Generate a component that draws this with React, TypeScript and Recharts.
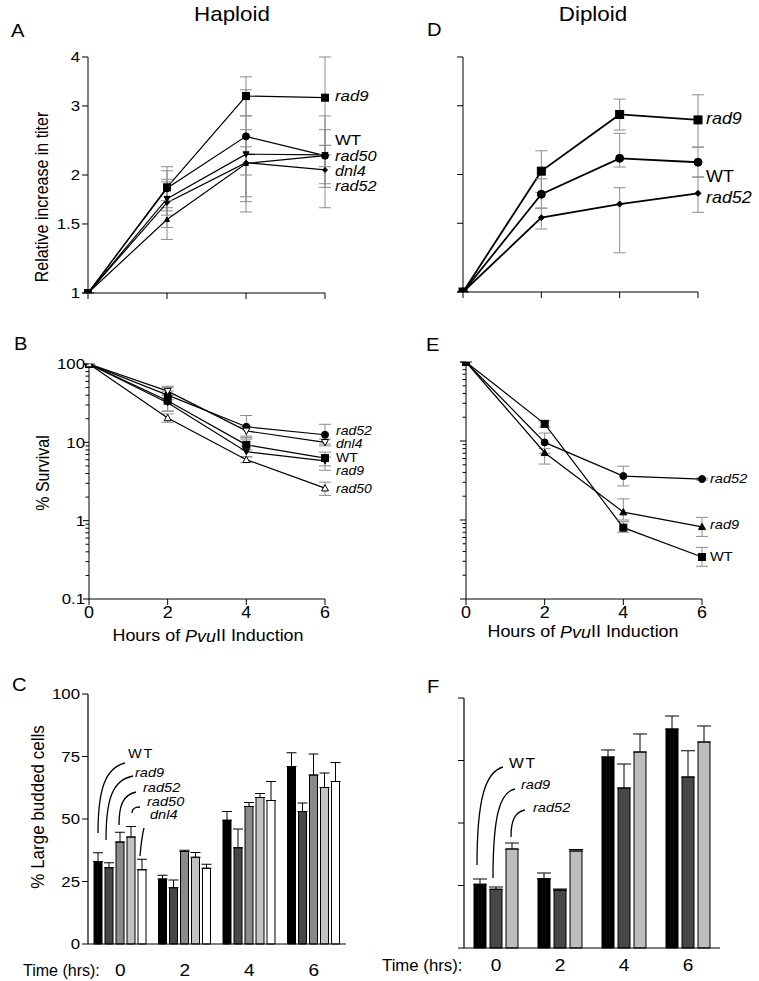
import React from 'react';
import { LineChart, Line, BarChart, Bar, XAxis, YAxis, ErrorBar } from 'recharts';

const FONT = '"Liberation Sans", Arial, Helvetica, sans-serif';
const SX = 1.12; // the scanned figure is a bit wider than tall

const hours = [0, 2, 4, 6];
const timeLabels = ['0', '2', '4', '6'];

// A: haploid, relative increase in titer
const hapTiterRad9 = [1, 1.86, 3.18, 3.15];
const hapTiterRad9Lo = [1, 1.62, 2.83, 2.38];
const hapTiterRad9Hi = [1, 2.1, 3.56, 4.0];
const hapTiterWT = [1, 1.85, 2.51, 2.24];
const hapTiterWTLo = [1, 1.65, 2.0, 1.86];
const hapTiterWTHi = [1, 2.05, 3.3, 2.83];
const hapTiterRad50 = [1, 1.74, 2.26, 2.25];
const hapTiterRad50Lo = [1, 1.58, 1.76, 1.65];
const hapTiterRad50Hi = [1, 1.92, 2.83, 2.61];
const hapTiterDnl4 = [1, 1.7, 2.15, 2.06];
const hapTiterDnl4Lo = [1, 1.47, 1.71, 1.9];
const hapTiterDnl4Hi = [1, 1.95, 2.61, 2.25];
const hapTiterRad52 = [1, 1.54, 2.14, 2.24];
const hapTiterRad52Lo = [1, 1.37, 1.61, 2.1];
const hapTiterRad52Hi = [1, 1.72, 2.36, 2.38];

// D: diploid, relative increase in titer
const dipTiterRad9 = [1, 2.04, 2.85, 2.76];
const dipTiterRad9Lo = [1, 1.8, 2.6, 2.35];
const dipTiterRad9Hi = [1, 2.3, 3.12, 3.2];
const dipTiterWT = [1, 1.78, 2.2, 2.15];
const dipTiterWTLo = [1, 1.64, 2.09, 1.97];
const dipTiterWTHi = [1, 1.95, 2.55, 2.35];
const dipTiterRad52 = [1, 1.55, 1.68, 1.79];
const dipTiterRad52Lo = [1, 1.45, 1.26, 1.6];
const dipTiterRad52Hi = [1, 1.64, 1.85, 1.97];

const titerTicks = [1, 1.5, 2, 3, 4];

// B: haploid, % survival
const hapSurvRad52 = [100, 40, 15.8, 12.5];
const hapSurvRad52Lo = [100, 35, 11, 9.5];
const hapSurvRad52Hi = [100, 50, 22, 17];
const hapSurvDnl4 = [100, 45, 14, 10];
const hapSurvDnl4Lo = [100, 40, 12, 9];
const hapSurvDnl4Hi = [100, 52, 16, 11];
const hapSurvWT = [100, 34, 9.3, 6.3];
const hapSurvWTLo = [100, 25, 8, 5];
const hapSurvWTHi = [100, 45, 11.5, 7.5];
const hapSurvRad9 = [100, 32, 7.6, 5.8];
const hapSurvRad9Lo = [100, 25, 6.5, 4.4];
const hapSurvRad9Hi = [100, 40, 9, 6.5];
const hapSurvRad50 = [100, 20.5, 6.0, 2.6];
const hapSurvRad50Lo = [100, 18, 5.5, 2.1];
const hapSurvRad50Hi = [100, 23, 6.6, 3.1];

// E: diploid, % survival
const dipSurvWT = [100, 16.5, 0.8, 0.34];
const dipSurvWTLo = [100, 15, 0.7, 0.26];
const dipSurvWTHi = [100, 18, 0.95, 0.45];
const dipSurvRad52 = [100, 9.6, 3.6, 3.3];
const dipSurvRad52Lo = [100, 7, 2.7, 3.2];
const dipSurvRad52Hi = [100, 12.6, 4.8, 3.4];
const dipSurvRad9 = [100, 7.1, 1.26, 0.82];
const dipSurvRad9Lo = [100, 5.1, 1.0, 0.62];
const dipSurvRad9Hi = [100, 8, 1.85, 1.08];

const survDecades = [0.1, 1, 10, 100];
const survTicks = [
  0.1, 0.2, 0.3, 0.4, 0.5, 0.6, 0.7, 0.8, 0.9,
  1, 2, 3, 4, 5, 6, 7, 8, 9,
  10, 20, 30, 40, 50, 60, 70, 80, 90, 100,
];

// C: haploid, % large budded cells (value, top of error bar)
const hapBudWT = [33, 26, 49.5, 71];
const hapBudWTTop = [36.5, 27.5, 53, 76.5];
const hapBudRad9 = [30.5, 22.5, 38.5, 53];
const hapBudRad9Top = [32.5, 25.6, 46, 56.4];
const hapBudRad52 = [40.8, 37, 55, 67.6];
const hapBudRad52Top = [44.7, 37.5, 56.6, 76];
const hapBudRad50 = [42.8, 34.7, 58.6, 62.6];
const hapBudRad50Top = [47, 36.6, 60.2, 68.4];
const hapBudDnl4 = [29.7, 30.3, 57.4, 65];
const hapBudDnl4Top = [33.9, 31.9, 65, 72.6];

// F: diploid, % large budded cells
const dipBudWT = [25.5, 27.7, 76.4, 87.6];
const dipBudWTTop = [27.6, 30, 79.2, 92.8];
const dipBudRad9 = [23.5, 23.2, 64, 68.4];
const dipBudRad9Top = [24.4, 23.6, 73.6, 78.9];
const dipBudRad52 = [39.6, 38.8, 78.4, 82.4];
const dipBudRad52Top = [42, 39.4, 85.6, 88.8];

const budTicks = [0, 25, 50, 75, 100];

const lineRows = (series: { key: string; v: number[]; lo: number[]; hi: number[] }[]) =>
  hours.map((h, i) => {
    const r: any = { h };
    series.forEach((s) => {
      r[s.key] = s.v[i];
      r[s.key + 'Err'] = [s.v[i] - s.lo[i], s.hi[i] - s.v[i]];
    });
    return r;
  });

const barRows = (series: { key: string; v: number[]; top: number[] }[]) =>
  timeLabels.map((t, i) => {
    const r: any = { t };
    series.forEach((s) => {
      r[s.key] = s.v[i];
      r[s.key + 'Err'] = [0, s.top[i] - s.v[i]];
    });
    return r;
  });

const T = ({ x, y, size, italic, anchor = 'start', sx = SX, rotate, spacing, children }: any) => (
  <text
    transform={`translate(${x},${y}) scale(${sx},1)${rotate ? ' rotate(-90)' : ''}`}
    fontSize={size}
    fontStyle={italic ? 'italic' : 'normal'}
    textAnchor={anchor}
    dominantBaseline="central"
    letterSpacing={spacing}
    fontFamily={FONT}
    fill="#000"
  >
    {children}
  </text>
);

const Marker = ({ cx, cy, shape, size, fill }: any) => {
  const h = size / 2;
  const common = { fill, stroke: '#000', strokeWidth: 1 };
  switch (shape) {
    case 'square':
      return <rect x={cx - h} y={cy - h} width={size} height={size} {...common} />;
    case 'circle':
      return <circle cx={cx} cy={cy} r={h} {...common} />;
    case 'tri':
      return <polygon points={`${cx},${cy - h} ${cx + h},${cy + h * 0.8} ${cx - h},${cy + h * 0.8}`} {...common} />;
    case 'tridown':
      return <polygon points={`${cx},${cy + h} ${cx + h},${cy - h * 0.8} ${cx - h},${cy - h * 0.8}`} {...common} />;
    default:
      return <polygon points={`${cx},${cy - h} ${cx + h},${cy} ${cx},${cy + h} ${cx - h},${cy}`} {...common} />;
  }
};

const dotFor = (shape: string, size: number, fill: string) => (p: any) =>
  <Marker key={'m' + p.index} cx={p.cx} cy={p.cy} shape={shape} size={size} fill={fill} />;

const yTickFor = (axisX: number, majors: number[], labelled: boolean, size: number, gap = 7) => (p: any) => {
  const v = p.payload.value;
  const major = majors.includes(v);
  return (
    <g>
      <line x1={axisX} x2={axisX - (major ? 6 : 3.5)} y1={p.y} y2={p.y} stroke="#000" />
      {labelled && major ? <T x={axisX - gap} y={p.y} size={size} anchor="end">{String(v)}</T> : null}
    </g>
  );
};

const xTickFor = (axisY: number, marks: boolean, labelled: boolean, size: number, dy: number) => (p: any) => (
  <g>
    {marks ? <line x1={p.x} x2={p.x} y1={axisY} y2={axisY + 6} stroke="#000" /> : null}
    {labelled ? <T x={p.x} y={axisY + dy} size={size} anchor="middle">{String(p.payload.value)}</T> : null}
  </g>
);

interface LineSpec { key: string; shape: string; size: number; fill: string }

const LogPanel = (props: any) => {
  const { left, top, width, height, axisX, plotTop, plotRight, axisY, domain, ticks, majors, yLabels, xLabels, rows, series, lineW } = props;
  return (
    <div style={{ position: 'absolute', left, top, width, height }}>
      <LineChart width={width} height={height} data={rows} margin={{ top: plotTop, right: width - plotRight, bottom: 0, left: 0 }}>
        <XAxis
          dataKey="h"
          type="number"
          domain={[0, 6]}
          ticks={hours}
          interval={0}
          height={height - axisY}
          tickLine={false}
          axisLine={{ stroke: '#000' }}
          tick={xTickFor(axisY, true, xLabels, 16, 14)}
        />
        <YAxis
          scale="log"
          domain={domain}
          ticks={ticks}
          interval={0}
          allowDataOverflow
          width={axisX}
          tickLine={false}
          axisLine={{ stroke: '#000' }}
          tick={yTickFor(axisX, majors, yLabels, 15, majors.length > 4 ? 8 : 4)}
        />
        {series.map((s: LineSpec) => (
          <Line
            key={s.key}
            dataKey={s.key}
            type="linear"
            stroke="#000"
            strokeWidth={lineW}
            dot={dotFor(s.shape, s.size, s.fill)}
            activeDot={false}
            isAnimationActive={false}
          >
            <ErrorBar dataKey={s.key + 'Err'} direction="y" stroke="#8c8c8c" strokeWidth={1} width={6} isAnimationActive={false} />
          </Line>
        ))}
      </LineChart>
    </div>
  );
};

interface BarSpec { key: string; fill: string }

const BarPanel = (props: any) => {
  const { left, top, width, height, axisX, plotTop, plotRight, axisY, yLabels, rows, series, barSize, barGap, capW, labelDy } = props;
  return (
    <div style={{ position: 'absolute', left, top, width, height }}>
      <BarChart
        width={width}
        height={height}
        data={rows}
        barGap={barGap}
        margin={{ top: plotTop, right: width - plotRight, bottom: 0, left: 0 }}
      >
        <XAxis
          dataKey="t"
          interval={0}
          height={height - axisY}
          tickLine={false}
          axisLine={{ stroke: '#000', strokeWidth: 1.2 }}
          tick={xTickFor(axisY, false, true, 17, labelDy)}
        />
        <YAxis
          domain={[0, 100]}
          ticks={budTicks}
          interval={0}
          width={axisX}
          tickLine={false}
          axisLine={{ stroke: '#000', strokeWidth: 1.2 }}
          tick={yTickFor(axisX, budTicks, yLabels, 15, 8)}
        />
        {series.map((s: BarSpec) => (
          <Bar key={s.key} dataKey={s.key} fill={s.fill} stroke="#000" strokeWidth={1} barSize={barSize} isAnimationActive={false}>
            <ErrorBar dataKey={s.key + 'Err'} direction="y" stroke="#000" strokeWidth={1} width={capW} isAnimationActive={false} />
          </Bar>
        ))}
      </BarChart>
    </div>
  );
};

const Hours = ({ x, y }: any) => (
  <text
    transform={`translate(${x},${y}) scale(${SX},1)`}
    fontSize={16}
    textAnchor="middle"
    dominantBaseline="central"
    fontFamily={FONT}
  >
    Hours of <tspan fontStyle="italic">Pvu</tspan>II Induction
  </text>
);

const curve = { fill: 'none', stroke: '#000', strokeWidth: 1.3 };

export default function App() {
  const aRows = lineRows([
    { key: 'rad9', v: hapTiterRad9, lo: hapTiterRad9Lo, hi: hapTiterRad9Hi },
    { key: 'WT', v: hapTiterWT, lo: hapTiterWTLo, hi: hapTiterWTHi },
    { key: 'rad50', v: hapTiterRad50, lo: hapTiterRad50Lo, hi: hapTiterRad50Hi },
    { key: 'dnl4', v: hapTiterDnl4, lo: hapTiterDnl4Lo, hi: hapTiterDnl4Hi },
    { key: 'rad52', v: hapTiterRad52, lo: hapTiterRad52Lo, hi: hapTiterRad52Hi },
  ]);
  const dRows = lineRows([
    { key: 'rad9', v: dipTiterRad9, lo: dipTiterRad9Lo, hi: dipTiterRad9Hi },
    { key: 'WT', v: dipTiterWT, lo: dipTiterWTLo, hi: dipTiterWTHi },
    { key: 'rad52', v: dipTiterRad52, lo: dipTiterRad52Lo, hi: dipTiterRad52Hi },
  ]);
  const bRows = lineRows([
    { key: 'rad52', v: hapSurvRad52, lo: hapSurvRad52Lo, hi: hapSurvRad52Hi },
    { key: 'dnl4', v: hapSurvDnl4, lo: hapSurvDnl4Lo, hi: hapSurvDnl4Hi },
    { key: 'WT', v: hapSurvWT, lo: hapSurvWTLo, hi: hapSurvWTHi },
    { key: 'rad9', v: hapSurvRad9, lo: hapSurvRad9Lo, hi: hapSurvRad9Hi },
    { key: 'rad50', v: hapSurvRad50, lo: hapSurvRad50Lo, hi: hapSurvRad50Hi },
  ]);
  const eRows = lineRows([
    { key: 'WT', v: dipSurvWT, lo: dipSurvWTLo, hi: dipSurvWTHi },
    { key: 'rad52', v: dipSurvRad52, lo: dipSurvRad52Lo, hi: dipSurvRad52Hi },
    { key: 'rad9', v: dipSurvRad9, lo: dipSurvRad9Lo, hi: dipSurvRad9Hi },
  ]);
  const cRows = barRows([
    { key: 'WT', v: hapBudWT, top: hapBudWTTop },
    { key: 'rad9', v: hapBudRad9, top: hapBudRad9Top },
    { key: 'rad52', v: hapBudRad52, top: hapBudRad52Top },
    { key: 'rad50', v: hapBudRad50, top: hapBudRad50Top },
    { key: 'dnl4', v: hapBudDnl4, top: hapBudDnl4Top },
  ]);
  const fRows = barRows([
    { key: 'WT', v: dipBudWT, top: dipBudWTTop },
    { key: 'rad9', v: dipBudRad9, top: dipBudRad9Top },
    { key: 'rad52', v: dipBudRad52, top: dipBudRad52Top },
  ]);

  return (
    <div style={{ position: 'absolute', left: 0, top: 0, width: 759, height: 981, background: '#fff', fontFamily: FONT }}>
      {/* A */}
      <LogPanel
        left={0} top={0} width={380} height={310}
        axisX={88} plotTop={57} plotRight={325} axisY={293}
        domain={[1, 4]} ticks={titerTicks} majors={titerTicks} yLabels xLabels={false}
        rows={aRows} lineW={1.2}
        series={[
          { key: 'rad9', shape: 'square', size: 7, fill: '#000' },
          { key: 'WT', shape: 'circle', size: 7, fill: '#000' },
          { key: 'rad50', shape: 'tridown', size: 6, fill: '#000' },
          { key: 'dnl4', shape: 'diamond', size: 5, fill: '#000' },
          { key: 'rad52', shape: 'tri', size: 5, fill: '#000' },
        ]}
      />
      {/* D */}
      <LogPanel
        left={380} top={0} width={379} height={310}
        axisX={83} plotTop={57} plotRight={318} axisY={292}
        domain={[1, 4]} ticks={titerTicks} majors={titerTicks} yLabels={false} xLabels={false}
        rows={dRows} lineW={1.8}
        series={[
          { key: 'rad9', shape: 'square', size: 8, fill: '#000' },
          { key: 'WT', shape: 'circle', size: 8, fill: '#000' },
          { key: 'rad52', shape: 'diamond', size: 6, fill: '#000' },
        ]}
      />
      {/* B */}
      <LogPanel
        left={0} top={320} width={380} height={330}
        axisX={89} plotTop={44} plotRight={325} axisY={279}
        domain={[0.1, 100]} ticks={survTicks} majors={survDecades} yLabels xLabels
        rows={bRows} lineW={1.2}
        series={[
          { key: 'rad52', shape: 'circle', size: 7, fill: '#000' },
          { key: 'dnl4', shape: 'tridown', size: 7, fill: '#fff' },
          { key: 'WT', shape: 'square', size: 7, fill: '#000' },
          { key: 'rad9', shape: 'tridown', size: 6, fill: '#000' },
          { key: 'rad50', shape: 'tri', size: 7, fill: '#fff' },
        ]}
      />
      {/* E */}
      <LogPanel
        left={380} top={320} width={379} height={330}
        axisX={86} plotTop={42} plotRight={322} axisY={279}
        domain={[0.1, 100]} ticks={survTicks} majors={survDecades} yLabels={false} xLabels
        rows={eRows} lineW={1.2}
        series={[
          { key: 'WT', shape: 'square', size: 7, fill: '#000' },
          { key: 'rad52', shape: 'circle', size: 7, fill: '#000' },
          { key: 'rad9', shape: 'tri', size: 7, fill: '#000' },
        ]}
      />
      {/* C */}
      <BarPanel
        left={0} top={650} width={380} height={331}
        axisX={88} plotTop={44} plotRight={346} axisY={294}
        yLabels rows={cRows} barSize={8} barGap={3} capW={5} labelDy={26}
        series={[
          { key: 'WT', fill: '#000' },
          { key: 'rad9', fill: '#474747' },
          { key: 'rad52', fill: '#8a8a8a' },
          { key: 'rad50', fill: '#c2c2c2' },
          { key: 'dnl4', fill: '#fff' },
        ]}
      />
      {/* F */}
      <BarPanel
        left={380} top={650} width={379} height={331}
        axisX={84} plotTop={48} plotRight={340} axisY={298}
        yLabels={false} rows={fRows} barSize={12} barGap={4} capW={7} labelDy={17}
        series={[
          { key: 'WT', fill: '#000' },
          { key: 'rad9', fill: '#474747' },
          { key: 'rad52', fill: '#bdbdbd' },
        ]}
      />

      <svg width={759} height={981} style={{ position: 'absolute', left: 0, top: 0, pointerEvents: 'none' }}>
        <T x={232} y={14} size={20} anchor="middle">Haploid</T>
        <T x={593} y={14} size={20} anchor="middle">Diploid</T>
        <T x={11} y={31} size={18}>A</T>
        <T x={427} y={30} size={18}>D</T>
        <T x={14} y={344} size={18}>B</T>
        <T x={426} y={345} size={18}>E</T>
        <T x={12} y={685} size={18}>C</T>
        <T x={427} y={687} size={18}>F</T>

        <T x={42} y={197} size={16} anchor="middle" rotate>Relative increase in titer</T>
        <T x={43} y={473} size={16} anchor="middle" rotate>% Survival</T>
        <T x={38} y={807} size={17} anchor="middle" rotate>% Large budded cells</T>
        <Hours x={208} y={636} />
        <Hours x={583} y={632} />

        <T x={335} y={96} size={15} italic>rad9</T>
        <T x={335} y={140} size={15}>WT</T>
        <T x={335} y={156} size={14.5} italic>rad50</T>
        <T x={335} y={171} size={14.5} italic>dnl4</T>
        <T x={335} y={186} size={14.5} italic>rad52</T>

        <T x={706} y={119} size={16} italic>rad9</T>
        <T x={706} y={177} size={16}>WT</T>
        <T x={706} y={198} size={16} italic>rad52</T>

        <T x={336} y={431} size={12.5} italic>rad52</T>
        <T x={336} y={444} size={12.5} italic>dnl4</T>
        <T x={336} y={458} size={12.5}>WT</T>
        <T x={336} y={471} size={12.5} italic>rad9</T>
        <T x={336} y={489} size={12.5} italic>rad50</T>

        <T x={710} y={479} size={13} italic>rad52</T>
        <T x={710} y={525} size={13} italic>rad9</T>
        <T x={710} y={557} size={13}>WT</T>

        <T x={23} y={970} size={16} sx={1.0}>Time (hrs):</T>
        <T x={382} y={965} size={16} sx={1.05}>Time (hrs):</T>

        <T x={128} y={754} size={13} spacing={1.5}>WT</T>
        <T x={135} y={773} size={13} italic>rad9</T>
        <T x={143} y={788} size={13} italic>rad52</T>
        <T x={147} y={802} size={13} italic>rad50</T>
        <T x={150} y={815} size={13} italic>dnl4</T>
        <path d="M98,833 C98,790 105,768 125,763" {...curve} />
        <path d="M106,840 C106,800 112,780 133,776" {...curve} />
        <path d="M119,825 C119,805 123,795 136,792" {...curve} />
        <path d="M132,813 C132,808 135,807 140,807" {...curve} />
        <path d="M140,856 C141,845 142,835 144,828" {...curve} />

        <T x={509} y={763} size={14} spacing={1.5}>WT</T>
        <T x={521} y={785} size={13} italic>rad9</T>
        <T x={533} y={808} size={13} italic>rad52</T>
        <path d="M477,865 C477,800 485,772 503,767" {...curve} />
        <path d="M493,878 C493,815 500,792 515,789" {...curve} />
        <path d="M511,837 C511,820 515,812 525,810" {...curve} />
      </svg>
    </div>
  );
}
